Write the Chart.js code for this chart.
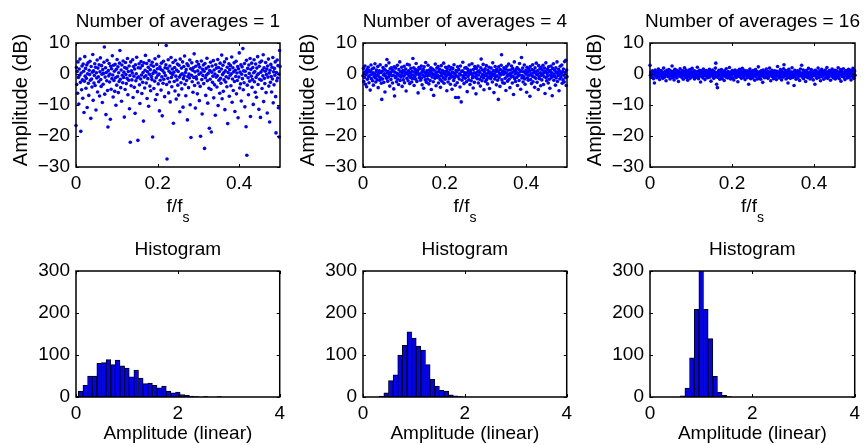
<!DOCTYPE html>
<html>
<head>
<meta charset="utf-8">
<script src="https://cdn.jsdelivr.net/npm/chart.js@4"></script>
<style>
  html, body { margin: 0; padding: 0; background: #fff; overflow: hidden; }
  body { width: 865px; height: 445px; position: relative; }
  .panel { position: absolute; }
</style>
</head>
<body>
<div class="panel" style="left:6px;top:1px;width:284px;height:226px"><canvas id="spec1"></canvas></div>
<div class="panel" style="left:293px;top:1px;width:284px;height:226px"><canvas id="spec4"></canvas></div>
<div class="panel" style="left:580px;top:1px;width:285px;height:226px"><canvas id="spec16"></canvas></div>
<div class="panel" style="left:6px;top:229px;width:284px;height:228px"><canvas id="hist1"></canvas></div>
<div class="panel" style="left:293px;top:229px;width:284px;height:228px"><canvas id="hist4"></canvas></div>
<div class="panel" style="left:580px;top:229px;width:285px;height:228px"><canvas id="hist16"></canvas></div>
<script>
Chart.defaults.font.family = '"Liberation Sans", Arial, Helvetica, sans-serif';
Chart.defaults.font.size = 19;
Chart.defaults.color = '#000';

// periodogram estimates in dB, one per frequency bin from 0 to fs/2
const avg1Db = [
  -16.6, 2.1, -3.4, 0.8, -6.2, 3.9, -1.1, -9.7, 1.6, -0.4, 4.8, -2.7, -18.5, 0.3, -5.1, 2.6,
  -1.9, -7.8, 3.2, 0.9, -12.4, -2.3, 5.6, -0.7, 1.8, -4.6, -1.4, 2.9, -10.8, 0.1, 3.6, -3.0,
  -6.9, 1.2, -0.2, 4.1, -2.0, -14.3, 2.4, -1.6, -4.2, 0.6, 6.3, -8.5, 1.0, -2.9, -0.5, 3.3,
  -3.7, 2.2, -11.6, 0.4, -1.3, 4.5, -5.8, 1.9, -0.9, -2.5, 3.0, -7.1, 0.7, 5.2, -1.8, -4.0,
  2.7, -0.1, -9.2, 1.4, -3.3, 0.2, 3.8, 8.7, -6.5, -1.0, 2.0, -13.1, 0.5, -2.2, 4.4, -5.3,
  -17.1, 1.1, -0.6, 3.4, -2.6, 0.0, -14.6, 2.5, -4.9, 1.7, -1.5, 5.9, -0.3, -7.4, 2.8, -2.1,
  0.9, -5.6, 3.1, -1.2, -10.1, 1.5, -3.6, 4.7, -0.8, 2.3, -6.0, 0.4, -2.4, 3.5, 7.6, -1.7,
  -4.4, 1.3, -8.8, 2.9, -0.4, -2.8, 4.2, -1.1, 0.6, -13.9, 2.1, -5.0, 3.7, -0.2, -3.1, 1.8,
  -1.4, 5.0, -6.7, 0.8, -2.0, 2.6, -11.2, -0.5, -22.0, 3.9, -3.8, 1.0, -1.9, 0.3, 4.6, -7.6,
  2.4, -0.7, -4.3, 1.6, -12.7, 3.0, -2.2, 0.1, 5.4, -1.3, -5.7, -21.4, 2.0, -0.9, 3.3, -3.5,
  -9.5, 1.9, -1.6, 4.0, -0.3, -6.3, 2.7, -2.7, 0.5, -15.2, 3.6, -1.0, -4.5, 1.2, 6.0, -0.6,
  -2.9, 3.4, -7.9, 0.7, -1.5, 2.2, -10.4, 4.3, -0.1, -3.9, 1.4, -5.4, 2.9, -0.8, -1.8, 3.8,
  -20.3, 0.2, 2.5, -4.7, 1.0, -2.3, 4.9, -8.3, 0.6, -1.2, 3.1, -6.6, 1.7, -0.4, -3.2, 5.7,
  0.0, -11.9, 2.3, -2.0, 1.5, -5.2, 3.5, -0.9, -13.5, 1.1, -3.0, 4.1, -1.7, 0.4, -7.3, 2.0,
  -0.5, 3.0, 9.2, -3.4, -27.4, 1.8, -1.4, 4.6, -6.1, 0.9, -2.6, 2.6, -9.0, 0.3, 5.3, -1.1,
  -4.1, 1.6, -0.2, 3.7, -15.9, 0.6, -2.4, 2.1, -5.5, 4.4, -0.7, -8.1, 1.3, -1.9, 3.2, -3.6,
  0.8, -6.8, 2.8, -1.0, -12.2, 4.8, -0.3, -2.8, 1.9, -4.8, 0.1, 3.9, -10.7, -1.5, 2.4, -0.6,
  5.8, -3.3, 0.5, -7.0, 1.4, -2.1, 3.3, -14.8, -0.8, 2.7, -4.4, 0.0, -1.3, 4.5, -9.9, 1.7,
  -20.5, -0.4, 3.6, -2.5, 1.2, -5.9, 2.0, -1.1, 6.5, -3.7, 0.7, -11.0, 2.5, -0.9, -1.6, 4.0,
  -6.4, 1.0, -2.9, 3.1, -0.1, -8.6, 2.2, -4.0, -20.1, 0.4, 4.2, -1.8, -12.9, 1.5, -0.5, 2.9,
  -3.1, 0.9, -24.0, 3.4, -1.2, -6.9, 1.8, -0.3, 5.1, -2.2, -9.4, 0.2, 2.3, -4.6, -17.5, 1.1,
  -1.7, 3.8, -5.0, -18.7, 0.6, 2.6, -2.7, -0.7, 4.3, -7.7, 1.3, -3.5, 0.0, -13.3, 3.0, -1.0,
  1.9, -4.2, -0.6, 4.7, -10.2, 2.1, -2.0, 0.8, -6.2, 3.5, -1.4, -3.0, 1.6, 6.1, -8.0, -0.2,
  2.8, -5.6, 0.4, -1.9, 3.9, -11.5, 1.0, -2.6, -0.9, 4.9, -4.1, 2.2, -16.0, 0.5, -1.3, 3.3,
  -7.2, 1.4, -0.4, 2.7, -3.8, 0.1, 5.5, -9.1, -1.6, 2.0, -5.3, 0.7, 3.6, -2.4, -12.1, 1.2,
  -0.8, 4.1, -6.4, 0.3, -2.1, 2.4, -14.1, 1.7, -1.0, 6.8, -4.5, 0.6, -3.2, 3.0, -8.7, -0.1,
  2.3, -1.5, 8.2, -5.1, 1.0, -2.8, 3.4, -10.6, 0.9, -0.5, -17.0, 4.4, -26.2, -3.6, 1.8, -1.2,
  -6.7, 2.9, 0.2, -2.3, 5.0, -13.7, 1.5, -0.7, 3.5, -4.3, -1.8, 2.1, -9.8, 0.4, 4.6, -2.5,
  0.8, -5.9, 3.2, -1.1, -7.5, 1.9, -0.3, 5.6, -3.4, 0.1, -11.4, 2.5, -1.7, 3.8, -14.0, 0.6,
  -2.0, 4.2, -4.7, 1.3, -0.6, 6.2, -8.9, 2.0, -1.4, -3.1, 0.9, 3.7, -6.0, -0.2, 1.6, -12.6,
  2.6, -1.0, 4.8, -3.9, 0.3, -15.5, 1.2, -2.7, 3.1, -0.8, -5.8, 2.2, -1.6, 5.3, -9.3, 0.7,
  -3.5, 1.8, -0.4, 3.9, -7.3, -19.0, 0.5, -2.2, 4.5, -1.3, 2.7, -10.9, 0.0, -20.3, 7.6, 2.4
];

const avg4Db = [
  -0.6, 1.8, -2.4, 0.3, -1.1, 2.6, -3.3, 0.9, -0.2, -4.1, 1.4, -1.7, 0.6, 2.2, -0.9, -2.8,
  1.1, -0.4, -5.2, 0.8, 2.9, -1.5, -0.1, 1.6, -2.2, 0.4, -3.6, 1.9, -0.8, 0.0, 3.3, -1.3,
  -2.6, 0.7, 1.3, -0.5, -1.9, 2.4, -4.4, 0.2, -0.9, 1.0, -2.0, 3.0, -1.2, 0.5, -3.0, -8.2,
  0.9, -1.6, 2.1, -0.3, -2.7, 1.5, 0.1, -5.8, 1.2, -0.7, 2.7, -1.4, 4.7, 0.3, -2.3, 0.8,
  -1.0, 3.6, -0.2, -3.9, 1.7, 0.4, -1.8, 2.0, -0.6, 0.9, -2.9, 1.3, -0.4, -4.8, 2.3, -7.1,
  0.6, -1.2, 1.9, -0.8, -2.5, 0.2, 2.8, -1.6, 0.0, -3.4, 1.4, -0.5, 3.9, -2.1, 0.7, -1.0,
  -0.3, 2.2, -4.0, 0.5, 1.1, -1.9, -0.7, 2.5, -2.8, 0.8, -0.1, 1.6, -5.5, 0.3, -1.4, 3.1,
  0.1, -2.2, 1.0, -0.6, 2.9, -3.1, 0.4, -1.1, 1.8, -0.2, -2.6, 0.9, -1.5, 5.0, -0.4, 2.0,
  -3.7, 0.6, -0.9, 1.5, -1.7, 3.4, -0.1, -2.4, 0.7, 1.2, -6.1, 0.0, 2.1, -1.2, -0.5, 1.7,
  -2.0, 0.3, 2.6, -1.3, -3.5, 0.8, -0.3, 1.4, -4.6, 2.3, -0.8, 0.5, -1.9, 3.7, 0.1, -2.7,
  1.0, -0.6, -1.6, 2.8, 0.2, -3.2, 1.3, -0.4, -2.1, 0.9, 2.0, -5.0, 0.4, -1.0, 1.6, -0.2,
  -2.5, -6.9, 1.2, 0.0, -1.4, 3.2, -0.7, -3.8, 0.6, 1.9, -1.1, -0.3, 2.4, -2.9, 0.8, -0.9,
  1.5, -1.8, -4.3, 0.3, 2.7, -0.5, -2.3, 1.1, 0.4, -1.2, 3.5, -3.0, 0.7, -0.1, -1.7, 2.2,
  -0.8, 0.9, -5.4, 1.7, -0.2, -2.6, 0.5, 2.5, -1.5, -0.4, 1.3, -3.3, 0.0, 2.0, -1.0, -4.9,
  0.6, 1.8, -0.7, -2.1, 3.0, -1.3, 0.2, -3.6, -7.6, 1.1, -0.6, 0.7, -2.8, 2.3, -0.9, -7.6,
  1.4, -1.6, 0.1, -4.2, 2.6, -0.3, -9.0, 0.8, -2.0, 1.0, 3.8, -1.1, -0.5, -3.1, 0.5, 1.9,
  -1.4, -0.2, 2.1, -2.5, 0.3, -5.7, 1.6, -0.8, 0.9, -1.9, 2.9, -0.1, -3.4, 0.6, 1.2, -2.2,
  0.0, 3.3, -1.2, -0.6, -4.5, 1.5, 0.4, -2.7, 2.4, -1.0, 0.2, -6.4, 1.8, -0.4, -1.5, 0.7,
  2.6, -2.9, -0.3, 1.0, -1.7, 0.5, -3.9, 2.0, 4.8, -0.9, -2.2, 1.3, -0.1, 3.1, -1.3, -5.1,
  0.8, -0.5, 1.7, -2.4, 0.1, 2.7, -1.8, -0.7, -3.2, 1.2, 0.3, -1.1, 2.2, -4.7, 0.6, -0.2,
  -1.5, 1.9, -0.8, 0.4, -2.6, 3.6, -0.4, 1.1, -6.0, 0.0, -1.6, 2.4, -0.9, 0.7, -3.5, 1.5,
  -0.6, -2.0, 0.9, -8.2, 2.3, -1.2, 0.2, -4.0, 1.4, -0.3, 2.8, 6.2, -1.9, 0.5, -2.8, 1.0,
  -0.1, 2.0, -3.0, 0.6, -1.4, 1.6, -5.3, 0.3, 2.5, -0.7, -2.3, 1.2, -0.5, 3.2, -1.7, 0.1,
  -4.4, 1.3, -0.2, -1.0, 2.6, 0.4, -2.9, 1.8, -0.8, -6.6, 0.9, 3.9, -1.5, 0.0, -2.4, 1.4,
  0.5, -1.1, 2.1, -3.7, 0.2, -0.6, 1.5, -2.1, 3.4, -0.3, 0.8, -4.9, 1.0, 5.3, -1.3, -0.5,
  1.9, -2.6, 0.7, -0.9, 2.9, -1.6, -3.3, 0.4, 1.2, -0.1, -5.9, 2.2, -1.2, 0.6, -2.0, 1.7,
  -0.4, 0.9, -7.2, 2.4, -1.8, 0.1, -3.1, 1.4, -0.7, 3.0, -2.5, 0.3, 1.1, -1.0, -4.3, 2.0,
  0.6, -1.4, 3.5, -0.2, -2.7, 1.0, 0.0, -5.0, 2.7, -0.8, -1.5, 1.6, 0.4, -3.8, 2.1, -0.5,
  -1.9, 1.3, -0.1, 2.8, -3.4, 0.5, -0.9, 1.9, -6.3, 0.8, 3.6, -1.2, -2.2, 0.2, 1.5, -0.6,
  -2.9, 2.3, 0.7, -1.7, -4.6, 1.1, -0.3, 2.6, -1.1, 0.4, -7.0, 1.8, -0.7, 3.3, -2.0, 0.0,
  1.2, -0.8, -3.6, 2.0, -1.3, 0.6, 3.9, -2.4, 0.1, -0.5, 1.5, -5.4, 0.9, -1.6, 2.5, -0.2,
  -1.0, 0.3, 2.9, -3.0, 0.8, -1.9, 1.6, -0.4, -2.6, 4.0, 0.5, -1.2, 4.4, -3.7, 1.3, -0.9
];

const avg16Db = [
  2.8, -0.4, 0.6, -1.1, 0.2, -0.7, 1.0, -0.2, 0.4, -1.5, 0.8, -2.9, 0.1, 1.3, -0.6, -0.1,
  0.5, -1.2, 0.0, 0.9, -0.5, 1.6, -0.9, 0.3, -1.8, 0.7, -0.3, 0.2, 1.1, -0.8, -0.1, 0.6,
  -1.4, 0.4, 1.9, -0.6, 0.1, -1.0, 0.8, -0.2, -2.2, 0.5, 1.2, -0.4, 0.0, -0.9, 0.7, 1.4,
  -0.7, 0.3, -1.6, 1.0, -0.1, 0.6, -0.5, 2.6, -1.1, 0.2, 0.9, -0.3, -1.9, 0.4, 1.5, -0.8,
  0.1, -0.4, 1.2, -1.3, 0.7, -0.2, 0.3, -2.4, 0.9, 0.0, -0.7, 1.7, -0.1, 0.5, -1.0, 0.2,
  -0.6, 1.1, 0.4, -1.7, -0.2, 0.8, 2.0, -0.9, 0.1, -0.4, 1.3, -1.2, 0.6, -0.1, -2.0, 0.9,
  0.3, -0.8, 0.0, 1.4, -1.4, 0.5, -0.3, 0.7, -1.0, 1.8, -0.5, 0.2, -0.9, 0.6, 1.0, -1.6,
  -0.2, 0.9, -1.1, 0.1, 0.5, -0.6, 2.2, -0.3, 0.8, -1.5, 0.0, 1.2, -0.7, 0.4, -2.6, 0.3,
  1.0, -0.1, -0.9, 0.6, -1.3, 1.6, 0.2, -0.5, 0.7, -1.8, 0.3, -0.2, 1.1, -0.8, 0.0, 0.5,
  -1.2, 0.8, 0.1, -0.4, 1.5, -1.0, 0.4, -0.6, -2.3, 0.9, 0.2, -0.3, 1.3, -0.7, 0.6, -1.4,
  0.0, 0.7, -0.9, 1.9, 3.5, -0.2, -3.3, 0.4, -4.4, -1.1, 0.8, -0.5, 1.2, -0.1, -1.7, 0.3,
  0.6, -0.8, 1.4, -0.3, -1.5, 0.2, 0.9, -0.6, 0.0, -2.1, 1.0, -0.2, 0.5, -1.0, 1.7, -0.4,
  -0.7, 0.4, -1.3, 0.8, 0.1, -0.5, 2.1, -0.9, 0.3, -1.6, 0.6, 0.0, -0.3, 1.1, -1.2, 0.7,
  0.2, -1.9, 0.5, -0.1, 1.3, -0.7, 0.0, -1.1, 0.9, 0.4, -0.4, -2.5, 1.0, -0.6, 0.3, 1.5,
  -0.9, 0.1, -0.2, 0.8, -1.4, 0.6, 1.8, -0.5, -0.1, 0.4, -1.0, 1.2, -0.3, -1.8, 0.7, 0.0,
  0.5, -0.6, 1.0, -1.2, 0.3, -0.4, -3.3, 0.9, -0.8, 1.6, 0.1, -1.5, 0.4, -0.2, 0.8, -0.7,
  -1.3, 1.1, 0.0, -0.5, 0.6, -2.0, 0.2, 1.4, -0.9, 0.5, -0.3, 0.8, -1.6, 0.1, 2.3, -0.4,
  0.3, -1.1, 0.7, -0.2, -1.7, 1.0, -0.6, 0.4, 0.0, -2.7, 1.3, -0.8, 0.6, -0.1, -1.2, 0.9,
  -0.4, 0.2, 1.6, -1.0, 0.5, -0.3, -1.4, 0.8, 0.1, -0.7, 1.9, -0.5, 0.0, -2.2, 0.6, -0.2,
  1.2, -0.9, 0.3, -0.6, -1.5, 0.7, 0.1, 1.0, -1.1, -0.2, 0.4, -1.8, 0.9, -0.4, 2.4, -0.7,
  0.0, 0.6, -1.3, 0.3, -0.5, 1.4, -0.8, 0.2, -1.9, 0.8, -0.1, 0.5, -1.0, 1.7, 3.0, -0.3,
  -0.6, 0.4, 1.1, -1.6, 0.0, -0.4, 0.9, -1.2, -2.9, 0.5, 1.5, -0.7, 0.2, -0.1, -1.4, 0.7,
  0.3, -0.8, 2.0, -0.2, -1.1, 0.6, -0.5, -3.7, 0.1, 1.2, -0.9, 0.4, -1.7, 0.8, 0.0, -0.3,
  1.0, -1.3, 0.2, -0.6, 0.7, -2.1, 0.5, 1.6, -0.4, 0.1, 2.8, -1.0, 0.3, -0.7, 1.3, -1.5,
  -0.1, 0.9, -0.8, 0.4, -2.4, 0.2, 1.1, -0.5, 0.6, -1.2, 0.0, 1.8, -0.9, 0.3, -0.2, -1.6,
  0.7, -0.3, 1.4, -1.0, 0.1, -0.6, 0.5, -1.9, 0.9, -0.1, 0.4, -3.3, 1.2, -0.7, 0.2, 0.8,
  -1.4, 0.3, -0.4, 1.9, -0.8, 0.6, -1.1, 0.0, 1.0, -2.2, 0.5, -0.2, 1.5, -0.9, 0.1, -0.5,
  0.8, -1.7, 0.2, 0.6, -0.3, 1.3, -1.2, 0.4, -0.6, 2.1, -0.1, -1.4, 0.7, 0.0, -0.8, 1.1,
  -0.5, 0.3, -2.0, 0.9, 0.1, -0.7, 1.6, -0.2, 0.5, -1.3, 0.8, -0.4, 0.0, 1.2, -1.6, 0.4,
  -0.9, 1.0, -0.1, -1.1, 0.6, 2.0, -0.6, 0.2, -1.5, 0.7, -0.3, 1.4, -2.3, 0.3, 0.9, -0.8,
  0.1, -0.4, 1.7, -1.0, 0.5, -0.2, -1.8, 0.8, 0.0, 1.1, -0.7, 0.4, -1.3, 0.6, -0.5, 1.5,
  -1.1, 0.2, 0.7, -0.6, 1.2, -1.9, 0.3, -0.3, 0.9, -0.8, 1.8, -0.1, -1.4, 0.5, 1.0, -0.4
];

// histogram counts of the linear amplitude, bins centred on k * histStep
const histStep = 4 / 44;
const hist1Counts = [2, 14, 28, 50, 50, 80, 82, 89, 77, 88, 74, 69, 48, 64, 45, 32,
  33, 28, 22, 26, 14, 10, 12, 6, 4, 2, 1, 0, 1, 0, 0, 1];
const hist4Counts = [0, 0, 0, 0, 2, 10, 39, 53, 100, 123, 155, 140, 121, 112, 77, 42,
  26, 16, 14, 5, 3, 1];
const hist16Counts = [0, 0, 0, 0, 0, 0, 0, 3, 21, 93, 209, 312, 209, 139, 49, 11, 4, 1];

const freqTicks = [0, 0.2, 0.4];
const dbTicks = [-30, -20, -10, 0, 10];
const ampTicks = [0, 2, 4];
const countTicks = [0, 100, 200, 300];

const FONT = '"Liberation Sans", Arial, Helvetica, sans-serif';
const BLUE = '#0000ff';

const fmt = v => (v < 0 ? '\u2212' : '') + Math.abs(Math.round(v * 10) / 10);

// box, inward ticks on all sides, titles and axis labels
const panelDecor = {
  id: 'panelDecor',
  afterDraw(chart, args, opts) {
    const { ctx, chartArea: a } = chart;
    const xs = chart.scales.x, ys = chart.scales.y;
    ctx.save();
    ctx.strokeStyle = '#000';
    ctx.lineWidth = 1;
    ctx.beginPath();
    xs.ticks.forEach(t => {
      const px = Math.round(xs.getPixelForValue(t.value)) + 0.5;
      ctx.moveTo(px, a.bottom); ctx.lineTo(px, a.bottom - 3);
      ctx.moveTo(px, a.top); ctx.lineTo(px, a.top + 3);
    });
    ys.ticks.forEach(t => {
      const py = Math.round(ys.getPixelForValue(t.value)) + 0.5;
      ctx.moveTo(a.left, py); ctx.lineTo(a.left + 3, py);
      ctx.moveTo(a.right, py); ctx.lineTo(a.right - 3, py);
    });
    ctx.stroke();
    ctx.lineWidth = 1.5;
    ctx.strokeRect(a.left, a.top, a.width, a.height);

    ctx.fillStyle = '#000';
    ctx.textBaseline = 'alphabetic';
    ctx.textAlign = 'center';
    ctx.font = '19px ' + FONT;
    const cx = (a.left + a.right) / 2;
    ctx.fillText(opts.title, cx, a.top - 16);

    if (opts.xSub) {
      ctx.textAlign = 'left';
      const w1 = ctx.measureText(opts.xLabel).width;
      ctx.font = '14px ' + FONT;
      const w2 = ctx.measureText(opts.xSub).width;
      const x0 = cx - (w1 + w2) / 2;
      ctx.fillText(opts.xSub, x0 + w1, a.bottom + 54.5);
      ctx.font = '19px ' + FONT;
      ctx.fillText(opts.xLabel, x0, a.bottom + 45);
    } else {
      ctx.fillText(opts.xLabel, cx, a.bottom + 41.5);
    }

    if (opts.yLabel) {
      ctx.font = '20px ' + FONT;
      ctx.textAlign = 'center';
      ctx.translate(a.left - 49.5, a.top + a.height / 2 - 5);
      ctx.rotate(-Math.PI / 2);
      ctx.fillText(opts.yLabel, 0, 0);
    }
    ctx.restore();
  }
};

function axis(min, max, tickValues, isX) {
  return {
    type: 'linear',
    min: min,
    max: max,
    offset: false,
    grid: { display: false, drawTicks: false, offset: false },
    border: { display: false },
    ticks: { padding: isX ? 5 : 6, font: { size: 19 }, maxRotation: 0, autoSkip: false, callback: fmt },
    afterBuildTicks: s => { s.ticks = tickValues.map(v => ({ value: v })); },
    afterFit: s => { if (isX) s.height = 60; else s.width = 70; }
  };
}

function baseOptions(xScale, yScale, decor) {
  return {
    responsive: true,
    maintainAspectRatio: false,
    animation: false,
    events: [],
    layout: { padding: { top: 42, right: 10, left: 0, bottom: 0 } },
    scales: { x: xScale, y: yScale },
    plugins: { legend: { display: false }, tooltip: { enabled: false }, panelDecor: decor }
  };
}

function spectrumChart(id, values, title) {
  const df = 0.5 / (values.length - 1);
  new Chart(document.getElementById(id), {
    type: 'scatter',
    data: {
      datasets: [{
        data: values.map((v, i) => ({ x: i * df, y: v })),
        pointRadius: 1.8,
        pointBorderWidth: 0,
        backgroundColor: BLUE,
        clip: false
      }]
    },
    options: baseOptions(axis(0, 0.5, freqTicks, true), axis(-30, 10, dbTicks, false),
      { title: title, xLabel: 'f/f', xSub: 's', yLabel: 'Amplitude (dB)' }),
    plugins: [panelDecor]
  });
}

function histogramChart(id, counts) {
  new Chart(document.getElementById(id), {
    type: 'bar',
    data: {
      datasets: [{
        data: counts.map((c, k) => ({ x: k * histStep, y: c })),
        backgroundColor: BLUE,
        borderColor: '#000',
        borderWidth: 1,
        barPercentage: 1,
        categoryPercentage: 1
      }]
    },
    options: baseOptions(axis(0, 4, ampTicks, true), axis(0, 300, countTicks, false),
      { title: 'Histogram', xLabel: 'Amplitude (linear)' }),
    plugins: [panelDecor]
  });
}

spectrumChart('spec1', avg1Db, 'Number of averages = 1');
spectrumChart('spec4', avg4Db, 'Number of averages = 4');
spectrumChart('spec16', avg16Db, 'Number of averages = 16');
histogramChart('hist1', hist1Counts);
histogramChart('hist4', hist4Counts);
histogramChart('hist16', hist16Counts);
</script>
</body>
</html>
